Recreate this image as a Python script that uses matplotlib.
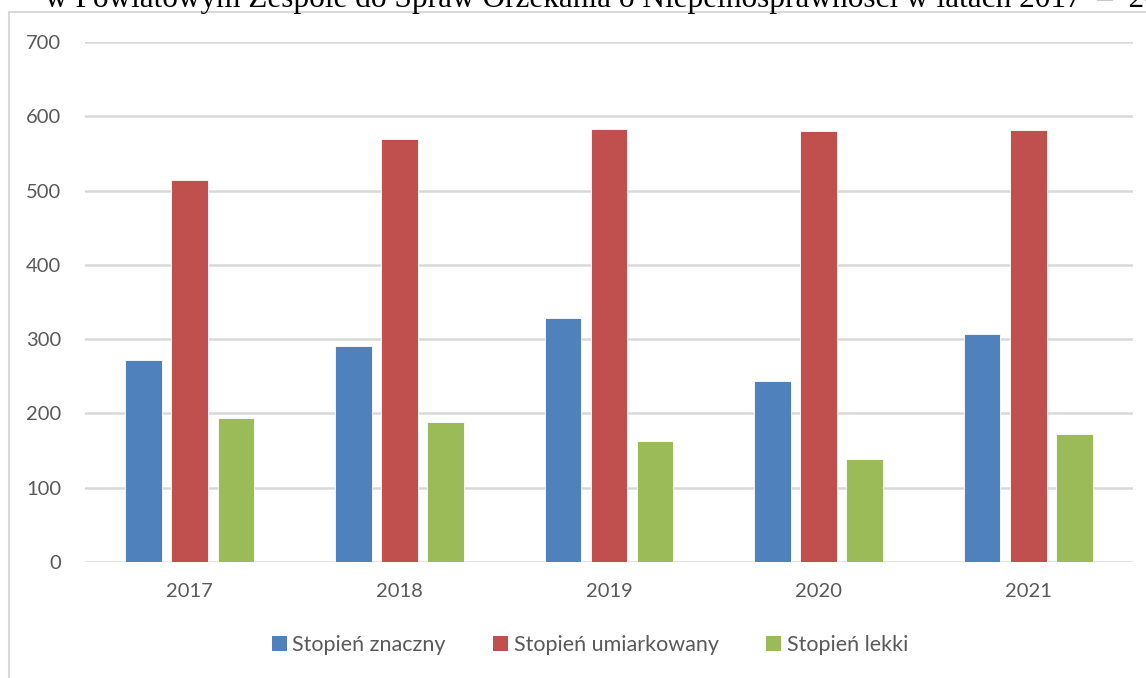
import numpy as np
import matplotlib

matplotlib.use('Agg')
import matplotlib.pyplot as plt
from matplotlib.patches import Rectangle, Patch

years = ['2017', '2018', '2019', '2020', '2021']
znaczny = [272, 291, 328, 243, 307]
umiarkowany = [514, 570, 583, 580, 581]
lekki = [194, 189, 163, 138, 172]

series_names = ['Stopień znaczny', 'Stopień umiarkowany', 'Stopień lekki']
colors = ['#4f81bd', '#c0504d', '#9bbb59']
text_color = '#595959'
grid_color = '#d9d9d9'

plt.rcParams['font.family'] = ['Lato', 'DejaVu Sans']


def make_chart():
    fig = plt.figure(figsize=(11.46, 6.78), dpi=100)

    # outer chart frame (partly cut off in the source)
    frame = Rectangle((9 / 1146, -0.1), 1.2, 1.1 - 12 / 678, transform=fig.transFigure,
                      fill=False, edgecolor=grid_color, linewidth=1.5, zorder=0)
    fig.patches.append(frame)

    # caption above the chart, clipped by the top edge as in the source
    fig.text(45 / 1146, 1 - 7 / 678,
             'w Powiatowym Zespole do Spraw Orzekania o Niepełnosprawności w latach 2017  –  2021',
             family='Liberation Serif', fontsize=22.5, color='black', ha='left', va='baseline')

    ax = fig.add_axes([85 / 1146, 1 - 562 / 678, (1133 - 85) / 1146, (562 - 42) / 678])
    x = np.arange(len(years))
    step = 0.22
    width = 0.175
    for i, (vals, c) in enumerate(zip([znaczny, umiarkowany, lekki], colors)):
        ax.bar(x + (i - 1) * step, vals, width=width, color=c, edgecolor='white',
               linewidth=0.6, zorder=3)

    ax.set_xlim(-0.5, len(years) - 0.5)
    ax.set_ylim(0, 700)
    ax.set_yticks(range(0, 701, 100))
    ax.set_xticks(x)
    ax.set_xticklabels(years)
    ax.yaxis.grid(True, color=grid_color, linewidth=1.8, zorder=0)
    ax.set_axisbelow(True)
    for s in ax.spines.values():
        s.set_visible(False)
    ax.tick_params(axis='both', length=0, labelsize=14.5, colors=text_color)
    ax.tick_params(axis='y', pad=17)
    ax.tick_params(axis='x', pad=15)

    handles = [Patch(facecolor=c, edgecolor='none') for c in colors]
    fig.legend(handles, series_names, loc='center', bbox_to_anchor=(590 / 1146, 1 - 645 / 678),
               ncol=3, frameon=False, fontsize=15.5, labelcolor=text_color,
               handlelength=0.7, handleheight=0.7, handletextpad=0.25, columnspacing=2.2)

    fig.savefig('out.png', dpi=100)


if __name__ == '__main__':
    make_chart()
